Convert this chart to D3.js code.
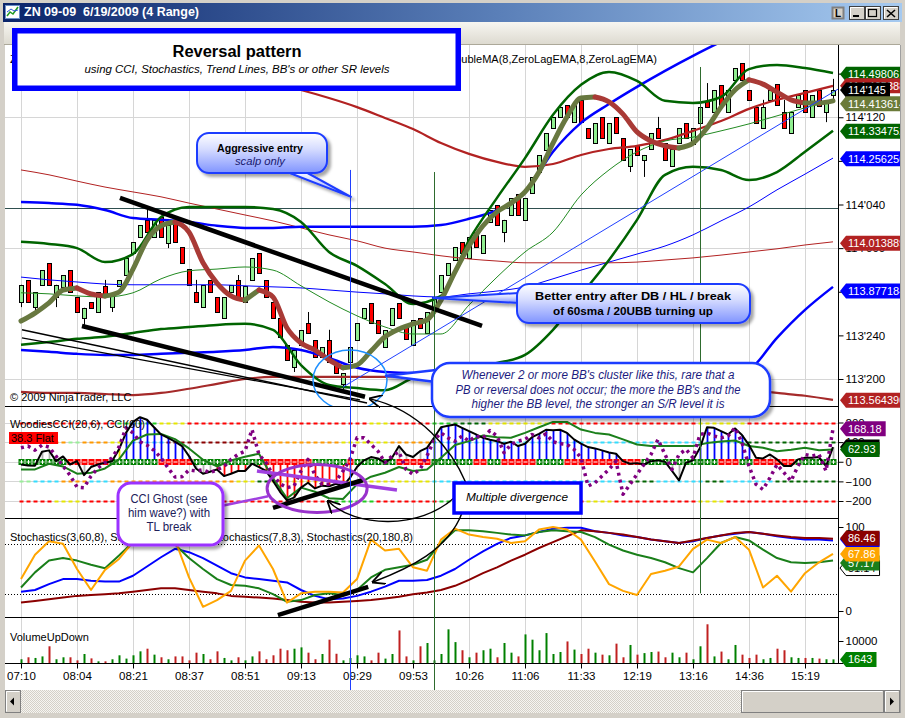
<!DOCTYPE html>
<html>
<head>
<meta charset="UTF-8">
<title>ZN 09-09 6/19/2009 (4 Range)</title>
<script src="https://cdn.jsdelivr.net/npm/d3@7/dist/d3.min.js"></script>
<style>
  html, body { margin: 0; padding: 0; background: #d4d0c8; }
  svg { display: block; font-family: "Liberation Sans", Arial, sans-serif; }
</style>
</head>
<body>
<svg id="chart" width="905" height="718"></svg>
<script>
// ---------------- data ----------------
const timeLabels = ["07:10","08:04","08:21","08:37","08:51","09:13","09:29","09:53","10:26","11:06","11:33","12:19","13:16","14:36","15:19"];
const tickBars = d3.range(0, 113, 8);          // one time label every 8 range bars

// 4-range candles, bar 0..116
const barOpen = [113.845,113.909,113.831,113.895,113.957,113.860,113.889,113.937,113.860,113.800,
 113.845,113.817,113.891,113.831,113.891,113.923,113.986,114.032,114.081,114.032,
 114.090,114.014,114.081,114.004,113.940,113.874,113.831,113.909,113.860,113.800,
 113.874,113.909,113.845,113.909,113.986,113.909,113.845,113.800,113.723,113.660,
 113.723,113.785,113.737,113.689,113.737,113.674,113.611,113.674,113.737,113.800,
 113.842,113.794,113.717,113.780,113.842,113.780,113.723,113.800,113.757,113.829,
 113.874,113.923,113.966,114.017,113.972,114.046,113.986,114.075,114.124,114.046,
 114.095,114.155,114.081,114.158,114.218,114.281,114.344,114.376,114.410,114.361,
 114.425,114.344,114.301,114.376,114.301,114.376,114.316,114.235,114.296,114.253,
 114.284,114.344,114.301,114.235,114.301,114.359,114.298,114.359,114.422,114.390,
 114.467,114.390,114.482,114.531,114.453,114.405,114.344,114.425,114.470,114.390,
 114.330,114.405,114.453,114.376,114.453,114.390,114.439];
const barClose = [113.895,113.845,113.874,113.937,113.895,113.895,113.923,113.874,113.817,113.829,
 113.829,113.874,113.860,113.866,113.909,113.972,114.017,114.066,114.046,114.081,
 114.032,114.066,114.017,113.957,113.895,113.845,113.895,113.874,113.817,113.860,
 113.895,113.860,113.891,113.972,113.928,113.860,113.800,113.746,113.680,113.708,
 113.766,113.757,113.689,113.717,113.674,113.642,113.642,113.717,113.785,113.829,
 113.785,113.757,113.766,113.829,113.800,113.740,113.794,113.771,113.817,113.860,
 113.923,113.957,114.004,113.986,114.032,114.004,114.038,114.109,114.066,114.081,
 114.144,114.095,114.144,114.204,114.267,114.330,114.376,114.405,114.376,114.410,
 114.361,114.316,114.359,114.316,114.359,114.330,114.253,114.284,114.267,114.267,
 114.330,114.316,114.253,114.284,114.344,114.316,114.344,114.405,114.405,114.453,
 114.407,114.453,114.516,114.482,114.425,114.359,114.405,114.453,114.410,114.344,
 114.390,114.439,114.390,114.439,114.407,114.422,114.453];
// visible wicks only (bar index -> price)
const barHighWick = {12:113.909, 18:114.118, 25:113.909, 31:113.923, 41:113.817, 44:113.766,
  91:114.376, 98:114.473, 106:114.425, 109:114.425, 116:114.485};
const barLowWick = {0:113.831, 2:113.817, 5:113.831, 9:113.780, 13:113.817, 21:114.000, 39:113.645,
  46:113.596, 69:114.017, 87:114.218, 89:114.204, 115:114.361, 116:114.425};

const volume = [1700,2600,2300,3000,7600,1700,2600,2600,1200,4100,
 2100,760,760,1700,3500,2000,3500,5300,6500,3800,
 2600,1700,3000,3000,1200,4700,4100,1700,5300,2300,
 1200,2600,1200,3000,5300,1700,3500,6500,5800,6500,
 7100,4700,1700,4100,10600,4200,1200,2300,3500,3000,
 1200,4700,2000,4100,14800,3000,1200,7600,9100,1200,
 4100,15300,9500,5800,2600,4700,5800,6500,2600,9100,
 4700,3000,13000,10600,5800,13600,4100,5000,9800,6100,
 4100,6500,4700,3800,3500,8800,2600,8200,3800,4500,
 5000,5200,2600,4700,2600,4700,1700,7600,17600,3000,
 5200,1700,8200,3800,2300,3800,1700,2300,6500,5800,
 2600,2300,2300,2300,2000,1700,1643];

// price-panel indicator lines, read every 4 bars (0,4,...,116)
const every4 = d3.range(0, 117, 4);
const smaThinRed = [114.224,114.210,114.192,114.175,114.161,114.147,114.129,114.112,114.095,114.078,
 114.058,114.038,114.021,114.000,113.989,113.978,113.969,113.963,113.958,113.958,
 113.958,113.958,113.960,113.966,113.972,113.980,113.989,113.998,114.009,114.018];
const smaRed = [114.697,114.671,114.645,114.616,114.591,114.565,114.539,114.516,114.493,114.473,
 114.453,114.430,114.404,114.373,114.341,114.301,114.270,114.247,114.233,114.241,
 114.267,114.284,114.293,114.310,114.336,114.364,114.399,114.425,114.445,114.465];
const smaBrown = [113.588,113.585,113.585,113.582,113.579,113.585,113.597,113.611,113.625,113.631,
 113.631,113.631,113.631,113.631,113.637,113.640,113.637,113.634,113.631,113.628,
 113.625,113.622,113.619,113.614,113.608,113.602,113.594,113.585,113.577,113.565];
const bb60Upper = [114.132,114.129,114.124,114.109,114.086,114.081,114.075,114.064,114.058,114.058,
 114.061,114.061,114.061,114.061,114.061,114.066,114.084,114.109,114.158,114.276,
 114.359,114.413,114.462,114.508,114.551,114.591,114.625,114.654,114.677,114.697];
const bb60Mid = [113.917,113.909,113.903,113.897,113.895,113.895,113.895,113.895,113.892,113.889,
 113.886,113.880,113.874,113.869,113.863,113.860,113.869,113.877,113.889,113.912,
 113.937,113.960,113.983,114.006,114.038,114.078,114.118,114.167,114.212,114.258];
const bb60Lower = [113.708,113.703,113.697,113.694,113.694,113.697,113.700,113.703,113.708,113.717,
 113.708,113.685,113.657,113.645,113.642,113.642,113.640,113.637,113.634,113.631,
 113.631,113.628,113.628,113.628,113.628,113.628,113.651,113.743,113.823,113.889];
const bb20Upper = [114.018,114.012,114.000,113.960,113.983,114.089,114.118,114.118,114.118,114.112,
 114.075,113.989,113.949,113.897,113.840,113.863,114.023,114.144,114.258,114.382,
 114.468,114.505,114.479,114.422,114.416,114.433,114.513,114.525,114.516,114.502];
const bb20Mid = [113.872,113.869,113.863,113.860,113.872,113.912,113.935,113.940,113.946,113.937,
 113.892,113.846,113.806,113.774,113.754,113.754,113.837,113.917,113.989,114.046,
 114.152,114.224,114.276,114.307,114.318,114.336,114.356,114.379,114.402,114.422];
const bb20Lower = [113.723,113.731,113.740,113.746,113.757,113.768,113.774,113.780,113.783,113.766,
 113.665,113.608,113.599,113.593,113.628,113.645,113.657,113.671,113.694,113.766,
 113.866,113.966,114.081,114.210,114.233,114.224,114.195,114.218,114.276,114.336];

// DoubleMA, read every 2 bars (0,2,...,116)
const every2 = d3.range(0, 117, 2);
const doubleMA = [113.791,113.814,113.843,113.880,113.886,113.869,113.863,113.874,113.940,114.023,
 114.064,114.075,114.046,113.958,113.900,113.863,113.851,113.880,113.860,113.771,
 113.728,113.708,113.680,113.657,113.665,113.705,113.746,113.768,113.783,113.794,
 113.851,113.932,114.006,114.064,114.104,114.129,114.161,114.218,114.301,114.376,
 114.430,114.433,114.419,114.384,114.333,114.307,114.293,114.287,114.301,114.344,
 114.404,114.453,114.482,114.470,114.447,114.425,114.416,114.416,114.422];

// Woodies CCI panel
const cci20 = [-14,-19,-20,51,58,3,27,-14,3,-68, -27,-14,-5,3,63,147,203,227,214,176,
 139,122,103,80,29,-34,-61,-51,-39,-73, -61,-47,-47,-10,-27,-47,-98,-153,-197,-183,
 -132,-107,-136,-122,-125,-112,-125,-81,-27,7, 24,17,-5,20,80,37,24,54,71,122,
 176,183,190,173,156,139,122,112,105,92, 102,80,92,125,142,163,161,163,147,114,
 92,75,68,58,47,41,3,-10,-7,-14, 3,7,0,-47,-95,-5,7,71,176,173,
 156,139,170,136,85,20,17,37,12,-22, -22,12,20,20,24,-22,75];
const cciTurbo = [71,80,59,85,75,29,-22,-68,-129,-132, -73,-31,-5,20,75,173,147,102,85,58,
 20,-31,-78,-76,-42,-47,-41,-56,-41,-24, 12,37,54,164,37,-5,-68,-112,-132,-124,
 -47,12,-68,-115,-115,-98,-47,12,122,122, 88,54,-5,29,51,-39,-64,-39,30,110,
 147,122,105,131,105,131,122,159,131,46, 88,105,114,139,122,142,102,92,88,63,
 20,-124,-107,-73,-39,3,-166,-115,-64,-14, 37,114,37,-39,37,63,20,139,147,131,
 122,131,173,97,-22,-115,-141,-81,-14,-56, -98,-22,37,29,37,-47,168];
const cci60 = [-39,-39,-10,-24,-61,-56,-34,12,108,139, 142,115,68,10,-24,7,25,41,-85,-186,
 -132,-153,-186,-190,-115,-76,-56,-27,-47,-39, 20,85,105,134,125,122,147,176,203,203,
 164,147,139,114,88,80,80,80,80,95, 103,108,80,71,54,61,71,59,63];
const cciLevels = [200, 100, 0, -100, -200];
// Woodies state runs [fromBar, toBar, state]
const histRuns = [[0,6,"flat"],[7,7,"warn"],[8,13,"flat"],[14,14,"warn"],[15,24,"up"],[25,27,"flat"],
 [28,47,"down"],[48,57,"flat"],[58,85,"up"],[86,96,"flat"],[97,104,"up"],[105,116,"flat"]];
const zeroRuns = [[0,6,"+"],[7,12,"-"],[13,19,"+"],[20,24,"-"],[25,34,"+"],[35,41,"-"],[42,46,"+"],[47,47,"-"],
 [48,53,"+"],[54,58,"-"],[59,64,"+"],[65,66,"-"],[67,68,"+"],[69,73,"-"],[74,77,"+"],[78,88,"-"],
 [89,99,"+"],[100,102,"-"],[103,104,"+"],[105,110,"-"],[111,116,"+"]];
const runs200 = [[0,13,"r"],[14,19,"g"],[20,23,"y"],[24,49,"r"],[50,52,"y"],[53,58,"r"],[59,62,"g"],
 [63,66,"dg"],[67,75,"y"],[76,96,"r"],[97,103,"y"],[104,116,"r"]];
const runs100 = [[0,6,"o"],[7,8,"lg"],[9,12,"o"],[13,15,"y"],[16,20,"c"],[21,33,"dr"],[34,45,"o"],
 [46,52,"y"],[53,58,"o"],[59,103,"c"],[104,116,"dg"]];
const runsM100 = [[0,1,"lg"],[2,5,"c"],[6,9,"o"],[10,12,"c"],[13,30,"o"],[31,33,"y"],[34,35,"dg"],
 [36,58,"y"],[59,86,"c"],[87,90,"dg"],[91,97,"c"],[98,100,"dg"],[101,107,"c"],[108,116,"dg"]];
const runsM200 = [[0,4,"r"],[5,8,"y"],[9,13,"r"],[14,16,"y"],[17,44,"r"],[45,50,"g"],[51,59,"r"],
 [60,61,"g"],[62,80,"r"],[81,84,"y"],[85,96,"r"],[97,100,"y"],[101,116,"r"]];

// Stochastics, every 2 bars
const stochOrange = [38,67,83,80,50,25,49,62,82,90, 92,85,40,5,13,24,60,78,50,10,
 21,23,23,22,38,85,72,74,52,48, 85,98,91,88,86,81,83,97,100,97, 85,59,32,24,19,44,48,53,74,85,
 81,88,73,28,42,23,45,58,68];
const stochGreen = [28,46,60,63,60,55,51,66,82,88, 89,79,63,50,38,31,30,27,20,11,
 13,19,21,19,25,40,49,52,55,61, 81,96,96,95,93,91,90,94,96,95, 94,88,79,72,67,63,58,51,46,63,
 81,88,84,73,63,58,57,58,60];
const stochBlue = [23,25,32,38,38,36,35,35,42,53, 64,74,70,63,54,45,40,38,36,34,
 25,18,14,15,18,23,29,36,36,37, 42,50,61,71,80,87,90,94,98,99, 99,95,93,90,88,85,83,81,83,87,
 90,92,94,92,89,87,85,85,84];
const stochDarkRed = [10,12,14,16,18,19,20,21,23,25, 27,27,25,23,21,18,17,16,15,13,
 11,10,10,11,12,13,15,17,20,22, 25,30,37,45,52,60,67,75,82,89, 96,95,93,91,88,85,83,81,84,87,
 90,93,94,92,90,88,87,87,86];

// axis ticks and last-value tags
const priceTicks = [113.625, 113.75, 113.875, 114.0, 114.125, 114.25, 114.375, 114.5];
const priceGrid = [113.625, 114.0, 114.375];
const priceHLine = 114.116;
const priceTagValues = [114.498061, 114.465388, 114.453125, 114.413614, 114.334752, 114.256250, 114.013889, 113.877184, 113.564390];
const cciTagValues = [75.38, 62.93, 168.18];
const stochTagValues = [51.14, 57.17, 67.86, 85.02, 86.46];
const volumeTagValue = 1643;

// ---------------- scales ----------------
const svg = d3.select("#chart");
const defs = svg.append("defs");
const x = d3.scaleLinear().domain([0, 116]).range([21, 833]);
const yP = d3.scaleLinear().domain([113.625, 114.375]).range([379, 117.25]);
const yC = d3.scaleLinear().domain([-200, 200]).range([501, 422.5]);
const yS = d3.scaleLinear().domain([0, 100]).range([611, 527]);
const yV = d3.scaleLinear().domain([0, 10000]).range([663, 641]);

const L = 5, R = 838;
const panels = { price: [45, 406], cci: [407, 518], stoch: [519, 617], vol: [618, 663] };
Object.entries(panels).forEach(([k, [t, b]]) => {
  defs.append("clipPath").attr("id", "clip-" + k).append("rect")
    .attr("x", L).attr("y", t).attr("width", R - L).attr("height", b - t);
});

function grad(id, stops, vertical) {
  const g = defs.append("linearGradient").attr("id", id);
  if (vertical) g.attr("x1", 0).attr("y1", 0).attr("x2", 0).attr("y2", 1);
  stops.forEach(([o, c]) => g.append("stop").attr("offset", o).attr("stop-color", c));
}
grad("titleGrad", [[0, "#0a246a"], [0.55, "#5a7fb8"], [1, "#a6caf0"]]);
grad("toolGrad", [[0, "#f7f6f1"], [1, "#dcd9cf"]], true);
grad("gloss", [[0, "#ffffff"], [0.4, "#d6dcff"], [1, "#8094ff"]], true);
const sh = defs.append("filter").attr("id", "shadow").attr("x", "-10%").attr("y", "-15%").attr("width", "125%").attr("height", "150%");
sh.append("feDropShadow").attr("dx", 3).attr("dy", 3).attr("stdDeviation", 1.6).attr("flood-color", "#000").attr("flood-opacity", 0.35);
const pat = defs.append("pattern").attr("id", "scrollPat").attr("width", 2).attr("height", 2).attr("patternUnits", "userSpaceOnUse");
pat.append("rect").attr("width", 2).attr("height", 2).attr("fill", "#f6f5f1");
pat.append("rect").attr("width", 1).attr("height", 1).attr("fill", "#d4d0c8");
pat.append("rect").attr("x", 1).attr("y", 1).attr("width", 1).attr("height", 1).attr("fill", "#d4d0c8");
const mk = defs.append("marker").attr("id", "arrow").attr("viewBox", "0 0 10 10").attr("refX", 9).attr("refY", 5)
  .attr("markerWidth", 13).attr("markerHeight", 13).attr("markerUnits", "userSpaceOnUse").attr("orient", "auto");
mk.append("path").attr("d", "M0,0 L10,5 L0,10").attr("fill", "none").attr("stroke", "#000").attr("stroke-width", 1.4);

// ---------------- helpers ----------------
function series(g, bars, vals, ys, color, width, curve, dash) {
  const p = g.append("path").datum(bars.map((b, i) => [b, vals[i]]))
    .attr("d", d3.line().x(d => x(d[0])).y(d => ys(d[1])).curve(curve || d3.curveLinear))
    .attr("fill", "none").attr("stroke", color).attr("stroke-width", width)
    .attr("stroke-linejoin", "round");
  if (dash) p.attr("stroke-dasharray", dash);
  return p;
}
function text(g, tx, ty, s, o = {}) {
  const t = g.append("text").attr("x", tx).attr("y", ty).text(s)
    .attr("font-size", o.size || 11).attr("fill", o.fill || "#000")
    .attr("text-anchor", o.anchor || "start");
  if (o.bold) t.attr("font-weight", "bold");
  if (o.italic) t.attr("font-style", "italic");
  if (o.len) t.attr("textLength", o.len).attr("lengthAdjust", "spacingAndGlyphs");
  return t;
}
function expandRuns(runs) {
  const out = [];
  runs.forEach(([a, b, s]) => { for (let i = a; i <= b; i++) out[i] = s; });
  return out;
}
const fmt32 = p => {
  const whole = Math.floor(p + 1e-9), f = (p - whole) * 32, t = Math.floor(f + 1e-6);
  return whole + "'" + String(t).padStart(2, "0") + ((f - t) > 0.25 ? "5" : "0");
};

// ---------------- window chrome ----------------
svg.append("rect").attr("width", 905).attr("height", 718).attr("fill", "#d4d0c8");
svg.append("rect").attr("x", 3).attr("y", 3).attr("width", 899).attr("height", 19).attr("fill", "url(#titleGrad)");
svg.append("rect").attr("x", 4).attr("y", 22).attr("width", 897).attr("height", 23).attr("fill", "url(#toolGrad)");
svg.append("line").attr("x1", 4).attr("x2", 901).attr("y1", 44.5).attr("y2", 44.5).attr("stroke", "#aca899");
svg.append("rect").attr("x", L).attr("y", 45).attr("width", 895).attr("height", 645).attr("fill", "#fff");
// title icon + caption
svg.append("rect").attr("x", 5.5).attr("y", 5.5).attr("width", 14).attr("height", 13).attr("fill", "#fff").attr("stroke", "#6b8fc9");
svg.append("polyline").attr("points", "7,16 10,12 13,14 18,7").attr("fill", "none").attr("stroke", "#1f9a1f").attr("stroke-width", 1.5);
svg.append("polyline").attr("points", "7,12 11,9 14,11 18,10").attr("fill", "none").attr("stroke", "#2a55d8").attr("stroke-width", 1);
text(svg, 24, 16, "ZN 09-09  6/19/2009 (4 Range)", { size: 12, bold: true, fill: "#fff", len: 175 }).style("white-space", "pre");
// caption buttons
function winButton(bx, w, draw) {
  const g = svg.append("g");
  g.append("rect").attr("x", bx + 0.5).attr("y", 6.5).attr("width", w).attr("height", 13).attr("fill", "#d4d0c8").attr("stroke", "#404040");
  g.append("path").attr("d", `M${bx + 1.5},${18.5} V${7.5} H${bx + w - 0.5}`).attr("fill", "none").attr("stroke", "#fff");
  draw(g);
}
svg.append("rect").attr("x", 831.5).attr("y", 6.5).attr("width", 13).attr("height", 13).attr("fill", "#808080");
svg.append("rect").attr("x", 833.5).attr("y", 8.5).attr("width", 9).attr("height", 9).attr("fill", "#d4d0c8");
text(svg, 835, 17, "L", { size: 10, bold: true });
winButton(849, 15, g => g.append("rect").attr("x", 853).attr("y", 15).attr("width", 6).attr("height", 2).attr("fill", "#000"));
winButton(865, 15, g => g.append("rect").attr("x", 868.5).attr("y", 9.5).attr("width", 8).attr("height", 7).attr("fill", "none").attr("stroke", "#000").attr("stroke-width", 1.2));
winButton(883, 15, g => g.append("path").attr("d", "M887,10 L895,17 M895,10 L887,17").attr("stroke", "#000").attr("stroke-width", 1.6));

// ---------------- grid ----------------
const gGrid = svg.append("g").attr("stroke", "#d6d6d6").attr("stroke-width", 1);
tickBars.forEach(b => gGrid.append("line").attr("x1", x(b) + 0.5).attr("x2", x(b) + 0.5).attr("y1", 45).attr("y2", 663));
priceGrid.forEach(p => gGrid.append("line").attr("x1", L).attr("x2", R).attr("y1", Math.round(yP(p)) + 0.5).attr("y2", Math.round(yP(p)) + 0.5));
cciLevels.forEach(v => gGrid.append("line").attr("x1", L).attr("x2", R).attr("y1", Math.round(yC(v)) + 0.5).attr("y2", Math.round(yC(v)) + 0.5));

// ---------------- price panel ----------------
const gP = svg.append("g").attr("clip-path", "url(#clip-price)");
gP.append("line").attr("x1", L).attr("x2", R).attr("y1", Math.round(yP(priceHLine)) + 0.5).attr("y2", Math.round(yP(priceHLine)) + 0.5)
  .attr("stroke", "#2f4f4f");

barOpen.forEach((o, i) => {
  const c = barClose[i], top = Math.max(o, c), bot = Math.min(o, c);
  const hi = barHighWick[i] !== undefined ? barHighWick[i] : top;
  const lo = barLowWick[i] !== undefined ? barLowWick[i] : bot;
  const cx = x(i) + 0.5;
  if (hi > top || lo < bot) gP.append("line").attr("x1", cx).attr("x2", cx).attr("y1", yP(hi)).attr("y2", yP(lo)).attr("stroke", "#000");
  const t = Math.round(yP(top)), b = Math.round(yP(bot));
  gP.append("rect").attr("x", x(i) - 1.5).attr("y", t + 0.5).attr("width", 4).attr("height", Math.max(1, b - t))
    .attr("fill", c >= o ? "#90ee90" : "#ff0000").attr("stroke", "#000").attr("stroke-width", 1);
});

const smooth = d3.curveMonotoneX;
series(gP, every4, smaBrown, yP, "#a52a2a", 2.2, smooth);
series(gP, every4, smaThinRed, yP, "#b22222", 1, smooth);
series(gP, every4, smaRed, yP, "#b22222", 2.2, smooth);
series(gP, every4, bb60Upper, yP, "#0000ff", 2.5, smooth);
series(gP, every4, bb60Mid, yP, "#0000ff", 1, smooth);
series(gP, every4, bb60Lower, yP, "#0000ff", 2.5, smooth);
series(gP, every4, bb20Upper, yP, "#006400", 2.5, smooth);
series(gP, every4, bb20Mid, yP, "#228b22", 1, smooth);
series(gP, every4, bb20Lower, yP, "#006400", 2.5, smooth);

// DoubleMA coloured by direction
const dmPts = doubleMA.map((v, i) => [every2[i], v]);
const dmRuns = [];
for (let i = 1; i < dmPts.length; i++) {
  const up = dmPts[i][1] >= dmPts[i - 1][1];
  if (!dmRuns.length || dmRuns[dmRuns.length - 1].up !== up) dmRuns.push({ up, pts: [dmPts[i - 1]] });
  dmRuns[dmRuns.length - 1].pts.push(dmPts[i]);
}
const dmLine = d3.line().x(d => x(d[0])).y(d => yP(d[1])).curve(smooth);
dmRuns.forEach(r => gP.append("path").attr("d", dmLine(r.pts)).attr("fill", "none")
  .attr("stroke", r.up ? "#687840" : "#a93a36").attr("stroke-width", 5).attr("stroke-linecap", "round").attr("stroke-linejoin", "round"));

// drawn trend lines (bar, price)
const priceTL = [
  [[14.14, 114.144], [65.86, 113.777], 4.5, "#000"],
  [[8.71, 113.777], [49.14, 113.574], 4.5, "#000"],
  [[0.14, 113.766], [49.43, 113.556], 1.5, "#000"],
  [[0.14, 113.743], [48.43, 113.565], 1.2, "#000"],
  [[46, 113.602], [117, 114.459], 1, "#2040ff"]
];
priceTL.forEach(([a, b, w, c]) => gP.append("line").attr("x1", x(a[0])).attr("y1", yP(a[1])).attr("x2", x(b[0])).attr("y2", yP(b[1]))
  .attr("stroke", c).attr("stroke-width", w));
gP.append("ellipse").attr("cx", x(47)).attr("cy", yP(113.622)).attr("rx", 37).attr("ry", 30)
  .attr("fill", "none").attr("stroke", "#1e90ff").attr("stroke-width", 1.5);

// ---------------- CCI panel ----------------
const gC = svg.append("g").attr("clip-path", "url(#clip-cci)");
const lvlColor = { r: "#ff0000", g: "#22cc22", dg: "#006400", y: "#e6e600", o: "#ff9900", c: "#33ddff", dr: "#8b0000", lg: "#99ee99" };
[[200, runs200], [100, runs100], [-100, runsM100], [-200, runsM200]].forEach(([lv, runs]) => {
  const st = expandRuns(runs), yy = Math.round(yC(lv)) + 0.5;
  st.forEach((s, i) => gC.append("line").attr("x1", x(i) - 1.5).attr("x2", x(i) + 2.5).attr("y1", yy).attr("y2", yy)
    .attr("stroke", lvlColor[s]).attr("stroke-width", 2));
});
const histColor = { up: "#0000ff", down: "#ff0000", warn: "#e6e600", flat: "#b4b4b4" };
const histState = expandRuns(histRuns);
cci20.forEach((v, i) => gC.append("line").attr("x1", x(i) + 0.5).attr("x2", x(i) + 0.5).attr("y1", yC(0)).attr("y2", yC(v))
  .attr("stroke", histColor[histState[i]]).attr("stroke-width", 1.8));
const zeroState = expandRuns(zeroRuns), y0 = Math.round(yC(0));
zeroState.forEach((s, i) => {
  const cx = x(i) + 0.5;
  gC.append("rect").attr("x", cx - 3).attr("y", y0 - 3).attr("width", 6).attr("height", 6).attr("fill", s === "+" ? "#008000" : "#ff0000");
  gC.append("line").attr("x1", cx - 2).attr("x2", cx + 2).attr("y1", y0).attr("y2", y0).attr("stroke", "#fff");
  if (s === "+") gC.append("line").attr("x1", cx).attr("x2", cx).attr("y1", y0 - 2).attr("y2", y0 + 2).attr("stroke", "#fff");
});
series(gC, every2, cci60, yC, "#1a7f1a", 2);
series(gC, d3.range(117), cci20, yC, "#000", 2);
series(gC, d3.range(117), cciTurbo, yC, "#800080", 3.5, null, "3,4");
gC.append("line").attr("x1", x(33.71)).attr("y1", yC(-47)).attr("x2", x(53.71)).attr("y2", yC(-144)).attr("stroke", "#a040e0").attr("stroke-width", 3.5);
gC.append("line").attr("x1", x(36)).attr("y1", yC(-235)).attr("x2", x(48.86)).attr("y2", yC(-93)).attr("stroke", "#000").attr("stroke-width", 4.5);
gC.append("ellipse").attr("cx", x(42.3)).attr("cy", yC(-136)).attr("rx", 50).attr("ry", 24)
  .attr("fill", "none").attr("stroke", "#9932cc").attr("stroke-width", 3);

// ---------------- Stochastics panel ----------------
const gS = svg.append("g").attr("clip-path", "url(#clip-stoch)");
[80, 20].forEach(v => gS.append("line").attr("x1", L).attr("x2", R).attr("y1", Math.round(yS(v)) + 0.5).attr("y2", Math.round(yS(v)) + 0.5)
  .attr("stroke", "#000").attr("stroke-dasharray", "1,2"));
series(gS, every2, stochBlue, yS, "#0000ff", 2);
series(gS, every2, stochDarkRed, yS, "#8b0000", 2);
series(gS, every2, stochGreen, yS, "#1a7f1a", 2);
series(gS, every2, stochOrange, yS, "#ffa500", 2);
gS.append("line").attr("x1", x(36.7)).attr("y1", yS(-4.8)).attr("x2", x(49.6)).attr("y2", yS(28.6)).attr("stroke", "#000").attr("stroke-width", 4.5);

// ---------------- Volume panel ----------------
const gV = svg.append("g").attr("clip-path", "url(#clip-vol)");
volume.forEach((v, i) => gV.append("line").attr("x1", x(i) + 0.5).attr("x2", x(i) + 0.5).attr("y1", yV(0)).attr("y2", yV(v))
  .attr("stroke", barClose[i] >= barOpen[i] ? "#008000" : "#c02020").attr("stroke-width", 2));

// ---------------- frames and axes ----------------
const gF = svg.append("g").attr("stroke", "#000");
[406.5, 518.5, 617.5, 663.5].forEach(yy => gF.append("line").attr("x1", L).attr("x2", R + 0.5).attr("y1", yy).attr("y2", yy));
gF.append("line").attr("x1", R + 0.5).attr("x2", R + 0.5).attr("y1", 45).attr("y2", 664);

function rightAxis(scale, values, fmt) {
  const g = svg.append("g").attr("transform", `translate(${R + 0.5},0)`)
    .call(d3.axisRight(scale).tickValues(values).tickFormat(fmt).tickSize(5).tickPadding(2));
  g.select(".domain").remove();
  g.attr("font-family", '"Liberation Sans", Arial, sans-serif').attr("font-size", 11.5);
  return g;
}
rightAxis(yP, priceTicks, fmt32);
rightAxis(yC, cciLevels, d3.format("d"));
rightAxis(yS, [0, 100], d3.format("d"));
rightAxis(yV, [0, 10000], d3.format("d"));
const gx = svg.append("g").attr("transform", "translate(0,663.5)")
  .call(d3.axisBottom(x).tickValues(tickBars).tickFormat((b, i) => timeLabels[i]).tickSize(5).tickPadding(3));
gx.select(".domain").remove();
gx.attr("font-family", '"Liberation Sans", Arial, sans-serif').attr("font-size", 11.5);

// last-value tags (overlapping and cut at the frame, as in the platform)
function tag(yy, label, fill, fg, border) {
  const g = svg.append("g");
  const t = text(g, R + 10, yy + 4, label, { size: 11, fill: fg || "#fff" });
  const w = t.node().getComputedTextLength() + 12;
  g.insert("path", "text").attr("d", `M${R + 2},${yy} L${R + 8},${yy - 7.5} H${R + 2 + w} V${yy + 7.5} H${R + 8} Z`)
    .attr("fill", fill).attr("stroke", border || "none");
}
const priceTagColors = ["#006400", "#b22222", "#000000", "#6b7b3a", "#006400", "#0000ff", "#b22222", "#0000ff", "#b22222"];
priceTagValues.forEach((v, i) => tag(yP(v), i === 2 ? fmt32(v) : v.toFixed(6), priceTagColors[i]));
const cciTagColors = ["#000000", "#006400", "#800080"];
cciTagValues.forEach((v, i) => tag(yC(v), v.toFixed(2), cciTagColors[i]));
const stochTagColors = ["#ffffff", "#1a7f1a", "#ffa500", "#0000ff", "#8b0000"];
stochTagValues.forEach((v, i) => tag(yS(v), v.toFixed(2), stochTagColors[i], i === 0 ? "#000" : "#fff", i === 0 ? "#000" : null));
tag(yV(volumeTagValue), String(volumeTagValue), "#008000");

// panel captions
text(svg, 10, 63, "ZN 09-09 (4 Range), ");
text(svg, 657, 63, "Bollinger(2,20), Bollinger(2,60), SMA(60), DoubleMA(8,ZeroLagEMA,8,ZeroLagEMA)", { anchor: "end" });
text(svg, 10, 401, "\u00a9 2009 NinjaTrader, LLC");
text(svg, 10, 428, "WoodiesCCI(20,6), CCI(60)");
svg.append("rect").attr("x", 9).attr("y", 432).attr("width", 49).attr("height", 12).attr("fill", "#ff0000");
text(svg, 11, 442, "38.3 Flat");
text(svg, 10, 541, "Stochastics(3,60,8), Stoch");
text(svg, 413, 541, "Stochastics(7,8,3), Stochastics(20,180,8)", { anchor: "end" });
text(svg, 10, 641, "VolumeUpDown");

// vertical marker lines
const gM = svg.append("g");
gM.append("line").attr("x1", x(47) + 0.5).attr("x2", x(47) + 0.5).attr("y1", yP(114.224)).attr("y2", 698).attr("stroke", "#1f3fff");
gM.append("line").attr("x1", x(59) + 0.5).attr("x2", x(59) + 0.5).attr("y1", yP(114.218)).attr("y2", 698).attr("stroke", "#2e6b2e");
gM.append("line").attr("x1", x(97) + 0.5).attr("x2", x(97) + 0.5).attr("y1", yP(114.519)).attr("y2", yS(21)).attr("stroke", "#2e6b2e");

// ---------------- annotations ----------------
const gA = svg.append("g");
function callout(box, pointer, fill, stroke, sw) {
  const g = gA.append("g").attr("filter", "url(#shadow)");
  if (pointer) g.append("path").attr("d", "M" + pointer.map(p => p.join(",")).join("L") + "Z")
    .attr("fill", fill).attr("stroke", stroke).attr("stroke-width", sw).attr("stroke-linejoin", "round");
  g.append("rect").attr("x", box[0]).attr("y", box[1]).attr("width", box[2]).attr("height", box[3]).attr("rx", box[4])
    .attr("fill", fill).attr("stroke", stroke).attr("stroke-width", sw);
}
// curved arrows
[["M466,483 C452,450 420,410", [49.86, 113.568], yP],
 ["M455,497 C420,530 355,528", [43.86, -200], yC],
 ["M462,513 C448,550 410,568", [50.3, 34.5], yS]].forEach(([d, tip, ys]) =>
  gA.append("path").attr("d", `${d} ${x(tip[0])},${ys(tip[1])}`).attr("fill", "none")
    .attr("stroke", "#000").attr("stroke-width", 1.4).attr("marker-end", "url(#arrow)"));

callout([197, 133, 130, 40, 12], [[282, 170], [302, 170], [x(47.14), yP(114.147)]], "url(#gloss)", "#1f3cff", 2);
text(gA, 260, 152, "Aggressive entry", { bold: true, anchor: "middle", len: 86 });
text(gA, 260, 165, "scalp only", { italic: true, anchor: "middle", fill: "#1a1a70", len: 50 });

callout([517, 284, 233, 39, 12], [[519, 293], [519, 303], [x(58.86), yP(113.857)]], "url(#gloss)", "#1f3cff", 2);
text(gA, 633, 300, "Better entry after DB / HL / break", { bold: true, anchor: "middle", len: 196 });
text(gA, 633, 315, "of 60sma / 20UBB turning up", { bold: true, anchor: "middle", len: 160 });

callout([432, 363, 338, 54, 18], [[436, 370], [436, 382], [x(52.14), yP(113.634)]], "#fff", "#1f3cff", 2.5);
text(gA, 598, 379, "Whenever 2 or more BB's cluster like this, rare that a", { italic: true, anchor: "middle", fill: "#1c1c80", size: 12, len: 273 });
text(gA, 598, 394, "PB or reversal does not occur; the more the BB's and the", { italic: true, anchor: "middle", fill: "#1c1c80", size: 12, len: 285 });
text(gA, 598, 408, "higher the BB level, the stronger an S/R level it is", { italic: true, anchor: "middle", fill: "#1c1c80", size: 12, len: 253 });

gA.append("rect").attr("x", 454).attr("y", 483).attr("width", 127).attr("height", 30).attr("fill", "#fff").attr("stroke", "#0000ff").attr("stroke-width", 3.5);
text(gA, 517, 501, "Multiple divergence", { italic: true, anchor: "middle", len: 102 });

gA.append("line").attr("x1", 221).attr("y1", 506).attr("x2", x(35.3)).attr("y2", yC(-176)).attr("stroke", "#a040e0").attr("stroke-width", 2.5);
callout([118, 483, 105, 62, 13], null, "#fff", "#9b30ff", 3);
text(gA, 169, 503, "CCI Ghost (see", { anchor: "middle", fill: "#20205a", size: 12, len: 77 });
text(gA, 169, 517, "him wave?) with", { anchor: "middle", fill: "#20205a", size: 12, len: 82 });
text(gA, 169, 531, "TL break", { anchor: "middle", fill: "#20205a", size: 12, len: 45 });

// title box
gA.append("rect").attr("x", 14.75).attr("y", 30.75).attr("width", 443.5).attr("height", 57.5).attr("fill", "#fff").attr("stroke", "#0000ff").attr("stroke-width", 5.5);
text(gA, 237, 57, "Reversal pattern", { bold: true, anchor: "middle", size: 16, len: 129 });
text(gA, 237, 73, "using CCI, Stochastics, Trend Lines, BB's or other SR levels", { italic: true, anchor: "middle", size: 11, len: 305 });

// ---------------- scrollbar and frame edges ----------------
svg.append("rect").attr("x", 5).attr("y", 690).attr("width", 895).attr("height", 23).attr("fill", "url(#scrollPat)");
function sbButton(bx, w) {
  svg.append("rect").attr("x", bx + 0.5).attr("y", 690.5).attr("width", w - 1).attr("height", 22).attr("fill", "#d4d0c8").attr("stroke", "#808080");
  svg.append("path").attr("d", `M${bx + 1.5},${711.5} V${691.5} H${bx + w - 1.5}`).attr("fill", "none").attr("stroke", "#fff");
}
sbButton(5, 16); sbButton(741, 143); sbButton(884, 16);
svg.append("path").attr("d", "M10,701.5 L14,697.5 V705.5 Z").attr("fill", "#000");
svg.append("path").attr("d", "M894,701.5 L890,697.5 V705.5 Z").attr("fill", "#000");
svg.append("rect").attr("x", 900).attr("y", 22).attr("width", 5).attr("height", 696).attr("fill", "#d4d0c8");
svg.append("rect").attr("x", 0).attr("y", 713).attr("width", 905).attr("height", 5).attr("fill", "#d4d0c8");
svg.append("line").attr("x1", 900.5).attr("x2", 900.5).attr("y1", 45).attr("y2", 713).attr("stroke", "#a0a0a0");
</script>
</body>
</html>
